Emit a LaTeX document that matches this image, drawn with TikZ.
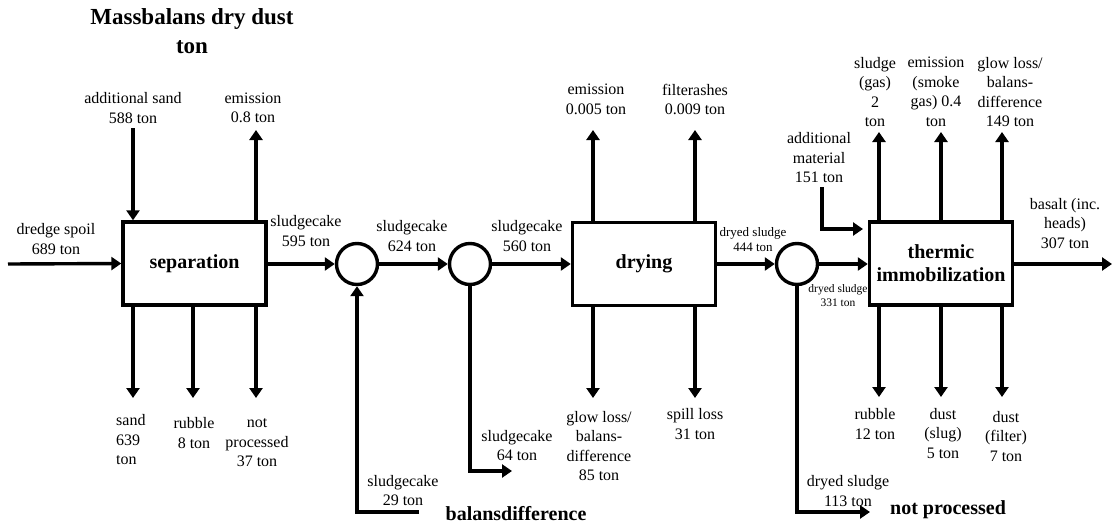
\documentclass[tikz,border=0pt]{standalone}
\usepackage{fontspec}
\setmainfont{Liberation Serif}
\usetikzlibrary{arrows.meta}
\begin{document}
\begin{tikzpicture}[x=1pt,y=-1pt,
 lbl/.style={font=\fontsize{16}{19.5}\selectfont, align=center, inner sep=0pt},
 sml/.style={font=\fontsize{13}{15}\selectfont, align=center, inner sep=0pt},
 tny/.style={font=\fontsize{11.5}{14}\selectfont, align=center, inner sep=0pt},
 bld/.style={font=\fontsize{20}{23}\selectfont\bfseries, align=center, inner sep=0pt},
 ttl/.style={font=\fontsize{23}{29}\selectfont\bfseries, align=center, inner sep=0pt},
 proc/.style={draw, line width=3.4pt, minimum width=143pt, minimum height=83pt, inner sep=0pt, font=\fontsize{20}{23}\selectfont\bfseries, align=center},
 junc/.style={draw, circle, line width=3.4pt, minimum size=41pt, inner sep=0pt},
 flow/.style={line width=3.4pt, -{Triangle[length=10pt,width=13pt]}},
 pl/.style={line width=3.4pt}]
\useasboundingbox (0,0) rectangle (1113,525);

% title
\node[ttl] (title) at (192,31.5) {Massbalans dry dust\\ton};

% process boxes and junctions
\node[proc] (sep) at (194.5,263.5) {separation};
\node[proc] (dry) at (644,264) {drying};
\node[proc] (thm) at (941,263.5) {thermic\\immobilization};
\node[junc] (c1) at (357,264) {};
\node[junc] (c2) at (470,264) {};
\node[junc] (c3) at (797,264) {};

% main line
\coordinate (din) at (8,264);
\draw[flow] (din) -- (sep.west);
\node[lbl] (ldredge) at (56,239) {dredge spoil\\689 ton};
\draw[flow] (sep.east |- c1) -- (c1.west);
\node[lbl] (l595) at (306,231) {sludgecake\\595 ton};
\draw[flow] (c1.east) -- (c2.west);
\node[lbl] (l624) at (412,236) {sludgecake\\624 ton};
\draw[flow] (c2.east) -- (dry.west |- c2);
\node[lbl] (l560) at (527,236) {sludgecake\\560 ton};
\draw[flow] (dry.east |- c3) -- (c3.west);
\node[sml] (l444) at (753,239.5) {dryed sludge\\444 ton};
\draw[flow] (c3.east) -- (thm.west |- c3);
\node[tny] (l331) at (838,296) {dryed sludge\\331 ton};
\coordinate (bout) at (1112,264);
\draw[flow] (thm.east |- bout) -- (bout);
\node[lbl] (lbas) at (1065,223.5) {basalt (inc.\\heads)\\307 ton};

% separation top/bottom
\coordinate (sa) at (133,128);
\draw[flow] (sa) -- (sa |- sep.north);
\node[lbl] (lsa) at (133,108) {additional sand\\588 ton};
\coordinate (se) at (256,130);
\draw[flow] (se |- sep.north) -- (se);
\node[lbl] (lse) at (253,108) {emission\\0.8 ton};
\coordinate (sb1) at (133,398);
\coordinate (sb2) at (193,398);
\coordinate (sb3) at (256,398);
\draw[flow] (sb1 |- sep.south) -- (sb1);
\draw[flow] (sb2 |- sep.south) -- (sb2);
\draw[flow] (sb3 |- sep.south) -- (sb3);
\node[lbl, anchor=west, align=left] (lsand) at (116,440) {sand\\639\\ton};
\node[lbl] (lrub) at (194,433) {rubble\\8 ton};
\node[lbl] (lnp) at (257,443) {not\\processed\\37 ton};

% junction 1 input
\coordinate (j1a) at (419,512);
\draw[flow] (j1a) -- (c1 |- j1a) -- (c1.south);
\node[lbl] (l29) at (403,490.5) {sludgecake\\29 ton};
\node[bld] (lbal) at (516,514) {balansdifference};

% junction 2 output
\coordinate (j2a) at (512,471);
\draw[flow] (c2.south) -- (c2 |- j2a) -- (j2a);
\node[lbl] (l64) at (517,445.5) {sludgecake\\64 ton};

% drying top/bottom
\coordinate (dt1) at (593,130);
\coordinate (dt2) at (695,130);
\draw[flow] (dt1 |- dry.north) -- (dt1);
\draw[flow] (dt2 |- dry.north) -- (dt2);
\node[lbl] (lde) at (596,99.5) {emission\\0.005 ton};
\node[lbl] (ldf) at (695,99.5) {filterashes\\0.009 ton};
\coordinate (db1) at (593,398);
\coordinate (db2) at (695,398);
\draw[flow] (db1 |- dry.south) -- (db1);
\draw[flow] (db2 |- dry.south) -- (db2);
\node[lbl] (ldg) at (599,446) {glow loss/\\balans-\\difference\\85 ton};
\node[lbl] (lds) at (695,424) {spill loss\\31 ton};

% junction 3 output
\coordinate (j3a) at (870,512);
\draw[flow] (c3.south) -- (c3 |- j3a) -- (j3a);
\node[lbl] (l113) at (848,491) {dryed sludge\\113 ton};
\node[bld] (lnotp) at (948,510) {not processed};

% thermic top
\coordinate (tt1) at (879,132);
\coordinate (tt2) at (941,132);
\coordinate (tt3) at (1002,132);
\draw[flow] (tt1 |- thm.north) -- (tt1);
\draw[flow] (tt2 |- thm.north) -- (tt2);
\draw[flow] (tt3 |- thm.north) -- (tt3);
\node[lbl] (lsg) at (875,92) {sludge\\(gas)\\2\\ton};
\node[lbl] (lsmk) at (936,92) {emission\\(smoke\\gas) 0.4\\ton};
\node[lbl] (lgl) at (1010,92) {glow loss/\\balans-\\difference\\149 ton};

% additional material
\coordinate (am0) at (822,187);
\coordinate (am1) at (863,229);
\draw[flow] (am0) -- (am0 |- am1) -- (am1);
\node[lbl] (lam) at (819,158) {additional\\material\\151 ton};

% thermic bottom
\coordinate (tb1) at (879,397);
\coordinate (tb2) at (941,397);
\coordinate (tb3) at (1002,397);
\draw[flow] (tb1 |- thm.south) -- (tb1);
\draw[flow] (tb2 |- thm.south) -- (tb2);
\draw[flow] (tb3 |- thm.south) -- (tb3);
\node[lbl] (ltr) at (875,424) {rubble\\12 ton};
\node[lbl] (ltds) at (943,433.5) {dust\\(slug)\\5 ton};
\node[lbl] (ltdf) at (1006,436.5) {dust\\(filter)\\7 ton};
\end{tikzpicture}
\end{document}
